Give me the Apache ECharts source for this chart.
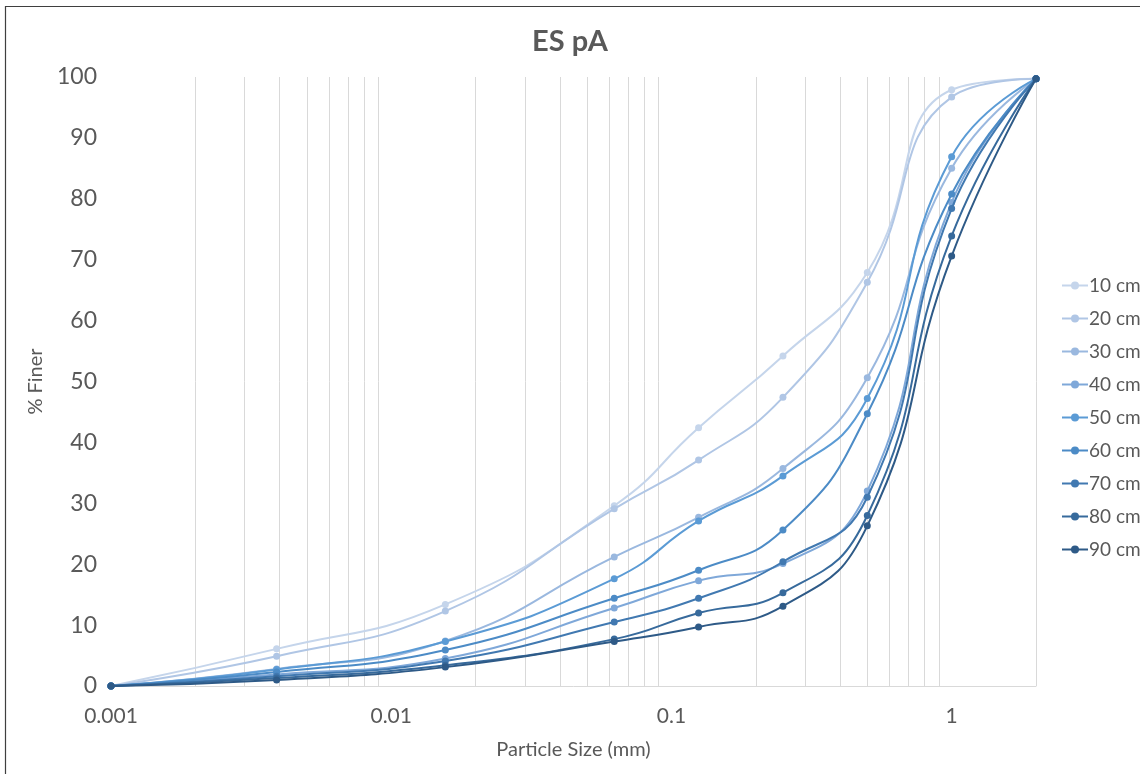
<!DOCTYPE html>
<html>
<head>
<meta charset="utf-8">
<title>ES pA</title>
<script src="https://cdn.jsdelivr.net/npm/echarts@6/dist/echarts.min.js"></script>
<style>
  html, body { margin: 0; padding: 0; background: #ffffff; }
  #chart { width: 1140px; height: 774px; }
</style>
</head>
<body>
<div id="chart"></div>
<script>
// Sieve / hydrometer particle sizes (mm)
const sizes = [0.001, 0.0039, 0.0156, 0.0625, 0.125, 0.25, 0.5, 1, 2];

// Depth labels
const depths = ['10 cm', '20 cm', '30 cm', '40 cm', '50 cm', '60 cm', '70 cm', '80 cm', '90 cm'];

// Cumulative % finer at each size, one array per depth
const finer10 = [0, 6.1, 13.4, 29.6, 42.4, 54.2, 67.9, 97.9, 99.7];
const finer20 = [0, 4.9, 12.3, 29.1, 37.1, 47.4, 66.3, 96.7, 99.7];
const finer30 = [0, 2.8, 7.4, 21.2, 27.7, 35.7, 50.6, 85.0, 99.7];
const finer40 = [0, 1.9, 4.5, 12.8, 17.3, 20.1, 32.0, 79.4, 99.7];
const finer50 = [0, 2.7, 7.3, 17.6, 27.1, 34.5, 47.2, 86.9, 99.7];
const finer60 = [0, 2.3, 5.9, 14.4, 19.0, 25.6, 44.7, 80.8, 99.7];
const finer70 = [0, 1.6, 4.1, 10.5, 14.4, 20.4, 31.0, 78.4, 99.7];
const finer80 = [0, 1.3, 3.4, 7.7, 12.0, 15.3, 28.0, 73.9, 99.7];
const finer90 = [0, 1.0, 3.1, 7.3, 9.7, 13.1, 26.3, 70.6, 99.7];

// Major tick labels on the log axis (0.001 .. 1)
const xTickLabels = ['0.001', '0.01', '0.1', '1'];
// Y tick step, 0..100
const yTickStep = 10;

const finerByDepth = [finer10, finer20, finer30, finer40, finer50, finer60, finer70, finer80, finer90];

// Monochromatic blue ramp, light (shallow) to dark (deep)
const colors = ['#c5d5eb', '#b0c6e5', '#9ab8df', '#7fa8d9', '#5b9bd5', '#4c8bc6', '#4179b1', '#376a9c', '#2e5a87'];

// Minor vertical grid lines at 2..9 x 10^k (no lines on the decades themselves)
const minorGrid = [];
[0.001, 0.01, 0.1, 1].forEach(function (d) {
  for (let m = 2; m <= 9; m++) {
    const v = +(m * d).toPrecision(3);
    if (v <= 2) minorGrid.push(v);
  }
});

const textColor = '#595959';
const fontFamily = 'Lato, "Open Sans", "Liberation Sans", sans-serif';

const series = [{
  name: '_grid',
  type: 'lines',
  coordinateSystem: 'cartesian2d',
  silent: true,
  z: 1,
  lineStyle: { color: '#d9d9d9', width: 1, opacity: 1 },
  data: minorGrid.map(function (v) { return { coords: [[v, 0], [v, 100]] }; })
}];

depths.forEach(function (name, i) {
  series.push({
    name: name,
    type: 'line',
    smooth: 0.5,
    z: 2 + i,
    symbol: 'circle',
    symbolSize: 7,
    showSymbol: true,
    clip: true,
    itemStyle: { color: colors[i] },
    lineStyle: { color: colors[i], width: 2 },
    data: sizes.map(function (s, j) { return [s, finerByDepth[i][j]]; })
  });
});

const chart = echarts.init(document.getElementById('chart'), null, { renderer: 'canvas' });

chart.setOption({
  animation: false,
  backgroundColor: '#ffffff',
  textStyle: { fontFamily: fontFamily },
  title: {
    text: 'ES pA',
    left: 'center',
    top: 22,
    textStyle: { fontFamily: fontFamily, fontSize: 29, fontWeight: 'bold', color: textColor }
  },
  graphic: [{
    type: 'rect',
    shape: { x: 5.5, y: 6.5, width: 1200, height: 820 },
    style: { fill: 'none', stroke: '#3f3f3f', lineWidth: 1.2 },
    silent: true,
    z: 100
  }],
  grid: { left: 111, right: 104, top: 77, bottom: 88, containLabel: false },
  legend: {
    orient: 'vertical',
    left: 1056,
    top: 271,
    itemWidth: 26,
    itemHeight: 10,
    itemGap: 14,
    data: depths,
    textStyle: { fontFamily: fontFamily, fontSize: 19, color: textColor, padding: [0, 0, 0, -4] }
  },
  xAxis: {
    type: 'log',
    logBase: 10,
    min: 0.001,
    max: 2,
    name: 'Particle Size (mm)',
    nameLocation: 'middle',
    nameGap: 54,
    nameTextStyle: { fontFamily: fontFamily, fontSize: 20, color: textColor },
    axisLine: { show: true, lineStyle: { color: '#d9d9d9', width: 1 } },
    axisTick: { show: false },
    splitLine: { show: false },
    axisLabel: {
      fontFamily: fontFamily,
      fontSize: 21,
      color: textColor,
      margin: 20,
      showMaxLabel: false,
      formatter: function (v) {
        const k = Math.round(Math.log10(v)) + 3;
        return xTickLabels[k] !== undefined ? xTickLabels[k] : '';
      }
    }
  },
  yAxis: {
    type: 'value',
    min: 0,
    max: 100,
    interval: yTickStep,
    name: '% Finer',
    nameLocation: 'middle',
    nameGap: 65,
    nameRotate: 90,
    nameTextStyle: { fontFamily: fontFamily, fontSize: 20, color: textColor },
    axisLine: { show: false },
    axisTick: { show: false },
    splitLine: { show: false },
    axisLabel: { fontFamily: fontFamily, fontSize: 23, color: textColor, margin: 14 }
  },
  tooltip: { show: false },
  series: series
});
</script>
</body>
</html>
